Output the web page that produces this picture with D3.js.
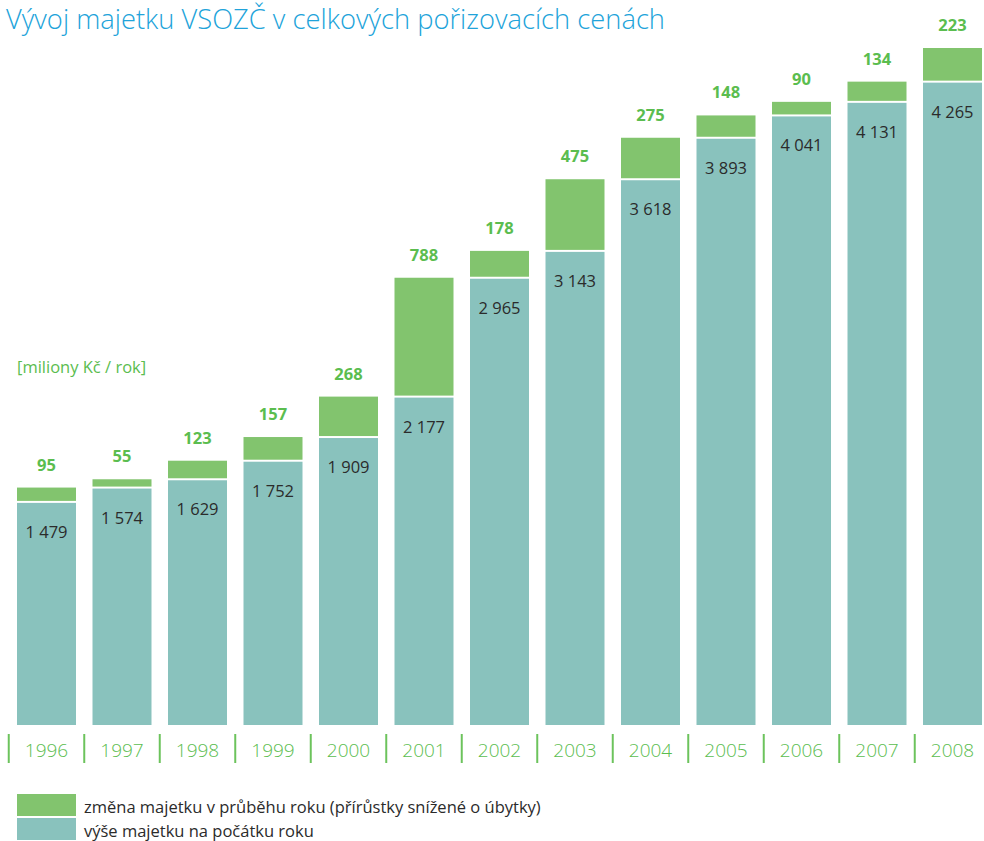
<!DOCTYPE html>
<html>
<head>
<meta charset="utf-8">
<script src="https://cdn.jsdelivr.net/npm/d3@7"></script>
<style>
  body { margin: 0; background: #fff; }
  text { font-family: "Open Sans", sans-serif; }
</style>
</head>
<body>
<script>
// values in millions CZK
const years = ["1996", "1997", "1998", "1999", "2000", "2001", "2002", "2003", "2004", "2005", "2006", "2007", "2008"];
const startValues = [1479, 1574, 1629, 1752, 1909, 2177, 2965, 3143, 3618, 3893, 4041, 4131, 4265];
const changeValues = [95, 55, 123, 157, 268, 788, 178, 475, 275, 148, 90, 134, 223];

const title = "Vývoj majetku VSOZČ v celkových pořizovacích cenách";
const unitLabel = "[miliony Kč / rok]";
const legendLabels = ["změna majetku v průběhu roku (přírůstky snížené o úbytky)", "výše majetku na počátku roku"];

const width = 984, height = 841;
const green = "#82c46e", teal = "#89c2bd", textGreen = "#5bbd4f", blue = "#21a3da", dark = "#2b2b2b";

const rows = years.map((y, i) => ({year: y, start: startValues[i], change: changeValues[i]}));

const svg = d3.select("body").append("svg")
	.attr("width", width)
	.attr("height", height);

const x = d3.scaleBand()
	.domain(years)
	.range([8.75, 8.75 + 13 * 75.5])
	.paddingInner(0.2185)
	.paddingOuter(0.10925);

const y = d3.scaleLinear()
	.domain([0, d3.max(rows, d => d.start + d.change)])
	.range([725, 48]);

// title
svg.append("text")
	.attr("x", 6)
	.attr("y", 29)
	.attr("fill", blue)
	.attr("font-size", 27.5)
	.attr("font-weight", 300)
	.attr("textLength", 659)
	.attr("lengthAdjust", "spacingAndGlyphs")
	.text(title);

svg.append("text")
	.attr("x", 17)
	.attr("y", 373)
	.attr("fill", textGreen)
	.attr("font-size", 16.5)
	.text(unitLabel);

const bars = svg.append("g")
	.selectAll("g")
	.data(rows)
	.join("g");

// bottom segment: value at start of year
bars.append("rect")
	.attr("x", d => x(d.year))
	.attr("width", x.bandwidth())
	.attr("y", d => y(d.start) + 1)
	.attr("height", d => y(0) - y(d.start) - 1)
	.attr("fill", teal);

// top segment: change during year
bars.append("rect")
	.attr("x", d => x(d.year))
	.attr("width", x.bandwidth())
	.attr("y", d => y(d.start + d.change))
	.attr("height", d => y(d.start) - y(d.start + d.change) - 1)
	.attr("fill", green);

bars.append("text")
	.attr("x", d => x(d.year) + x.bandwidth() / 2)
	.attr("y", d => y(d.start + d.change) - 17)
	.attr("text-anchor", "middle")
	.attr("fill", textGreen)
	.attr("font-size", 16.5)
	.attr("font-weight", 700)
	.text(d => d.change);

const fmt = d3.formatLocale({thousands: "\u00a0", grouping: [3], decimal: ",", currency: ["", ""]}).format(",d");

bars.append("text")
	.attr("x", d => x(d.year) + x.bandwidth() / 2)
	.attr("y", d => y(d.start) + 36)
	.attr("text-anchor", "middle")
	.attr("fill", dark)
	.attr("font-size", 16.5)
	.text(d => fmt(d.start));

// year axis with separators
const axis = svg.append("g");
axis.selectAll("line")
	.data(years)
	.join("line")
	.attr("x1", d => x(d) - x.step() * x.paddingInner() / 2)
	.attr("x2", d => x(d) - x.step() * x.paddingInner() / 2)
	.attr("y1", 734)
	.attr("y2", 763)
	.attr("stroke", "#6cc35c")
	.attr("stroke-width", 2);

axis.selectAll("text")
	.data(years)
	.join("text")
	.attr("x", d => x(d) + x.bandwidth() / 2)
	.attr("y", 757)
	.attr("text-anchor", "middle")
	.attr("fill", textGreen)
	.attr("font-size", 19)
	.attr("font-weight", 300)
	.text(d => d);

// legend
const legend = svg.append("g")
	.selectAll("g")
	.data([green, teal])
	.join("g")
	.attr("transform", (d, i) => `translate(17,${794 + i * 24})`);

legend.append("rect")
	.attr("width", 59)
	.attr("height", 22)
	.attr("fill", d => d);

legend.append("text")
	.attr("x", 67)
	.attr("y", 19)
	.attr("fill", dark)
	.attr("font-size", 16.5)
	.text((d, i) => legendLabels[i]);
</script>
</body>
</html>
